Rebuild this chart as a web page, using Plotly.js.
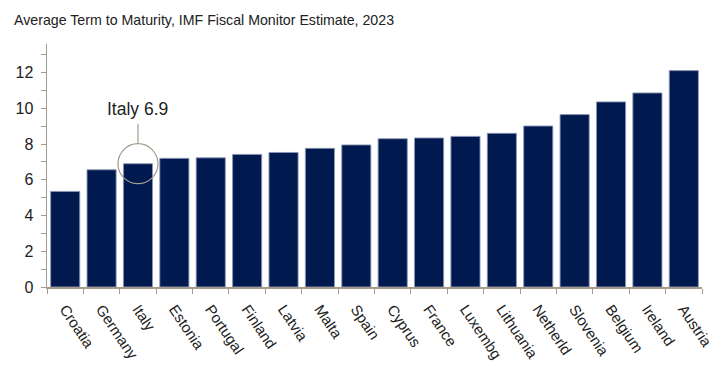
<!DOCTYPE html>
<html>
<head>
<meta charset="utf-8">
<script src="https://cdn.plot.ly/plotly-3.0.1.min.js"></script>
<style>html,body{margin:0;padding:0;background:#fff;}#chart{width:721px;height:365px;}</style>
</head>
<body>
<div id="chart"></div>
<script>
const countries = ["Croatia","Germany","Italy","Estonia","Portugal","Finland","Latvia","Malta","Spain","Cyprus","France","Luxembg","Lithuania","Netherld","Slovenia","Belgium","Ireland","Austria"];
const termYears = [5.35,6.56,6.9,7.2,7.23,7.42,7.53,7.76,7.95,8.3,8.34,8.43,8.6,9.01,9.65,10.36,10.86,12.11];
const yTickVals = [0,2,4,6,8,10,12];
const highlight = {label: "Italy", value: 6.9};

const FONT = "Liberation Sans, Arial, sans-serif";
const axisColor = "#a39a8c";

const trace = {
  type: "bar",
  x: countries,
  y: termYears,
  marker: {color: "#001a4f", line: {color: "rgba(140,150,180,0.9)", width: 1}},
  hoverinfo: "x+y"
};

const layout = {
  width: 721, height: 365,
  margin: {l: 47, r: 19, t: 44, b: 78},
  paper_bgcolor: "#fff", plot_bgcolor: "#fff",
  showlegend: false,
  bargap: 0.2,
  font: {family: FONT, color: "#222", size: 15},
  title: {
    text: "Average Term to Maturity, IMF Fiscal Monitor Estimate, 2023",
    font: {family: FONT, size: 14.2, color: "#222"},
    x: 14/721, xref: "container", xanchor: "left",
    y: 1 - 20/365, yref: "container", yanchor: "middle"
  },
  xaxis: {
    type: "category",
    showline: true, linecolor: axisColor, linewidth: 1.5,
    ticks: "outside", ticklen: 5, tickcolor: axisColor, tickson: "boundaries",
    tickangle: 56,
    ticklabelstandoff: 6,
    tickfont: {family: FONT, size: 15, color: "#222"},
    showgrid: false, zeroline: false
  },
  yaxis: {
    range: [0, 13.6],
    tickvals: yTickVals,
    showline: true, linecolor: axisColor, linewidth: 1.5,
    ticks: "outside", ticklen: 5, tickcolor: axisColor,
    minor: {dtick: 1, ticks: "outside", ticklen: 5, tickcolor: axisColor, showgrid: false},
    tickfont: {family: FONT, size: 16, color: "#222"},
    ticklabelstandoff: 4,
    showgrid: false, zeroline: false
  },
  shapes: [
    {type: "circle", xref: "x", yref: "y", xsizemode: "pixel", ysizemode: "pixel",
     xanchor: highlight.label, yanchor: highlight.value,
     x0: -20, x1: 20, y0: -20, y1: 20,
     line: {color: "#a39a8c", width: 1.2}},
    {type: "line", xref: "x", yref: "y", xsizemode: "pixel", ysizemode: "pixel",
     xanchor: highlight.label, yanchor: highlight.value,
     x0: 0, x1: 0, y0: 20, y1: 40,
     line: {color: "#a39a8c", width: 1.2}}
  ],
  annotations: [
    {x: highlight.label, y: highlight.value, xref: "x", yref: "y",
     text: highlight.label + " " + highlight.value.toFixed(1),
     showarrow: false, yshift: 55, xshift: 0,
     font: {family: FONT, size: 17.5, color: "#222"}}
  ]
};

Plotly.newPlot("chart", [trace], layout, {displayModeBar: false, staticPlot: true});
</script>
</body>
</html>
